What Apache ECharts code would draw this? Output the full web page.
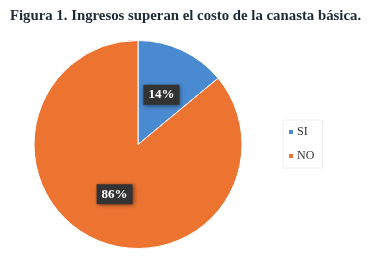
<!DOCTYPE html>
<html><head><meta charset="utf-8">
<script src="https://cdn.jsdelivr.net/npm/echarts@6/dist/echarts.min.js"></script>
<style>html,body{margin:0;padding:0;background:#fff}#c{width:371px;height:259px}</style>
</head><body><div id="c"></div>
<script>
const categories = ['SI', 'NO'];
const values = [14, 86];
const colors = ['#4a8ad0', '#ed7331'];
const chart = echarts.init(document.getElementById('c'), null, {renderer:'canvas'});
chart.setOption({
  animation:false,
  title:{text:'Figura 1. Ingresos superan el costo de la canasta básica.', left:'center', top:4,
    textStyle:{fontFamily:'Liberation Serif', fontWeight:'bold', fontSize:14.8, color:'#1e2a3a'}},
  legend:{orient:'vertical', left:283, top:120, itemWidth:6, itemHeight:6, itemGap:12, icon:'rect',
    borderColor:'#f0f0f0', borderWidth:1, padding:[6,8,6,4],
    textStyle:{fontFamily:'Liberation Serif', fontSize:12, color:'#333', padding:[0,0,0,-2]},
    data:categories},
  series:[{type:'pie', center:[138,144.5], radius:[0,104], startAngle:90, clockwise:true,
    data:categories.map((c,i)=>({name:c, value:values[i], itemStyle:{color:colors[i]}})),
    label:{position:'inside', formatter:'{c}%', fontFamily:'Liberation Serif', fontWeight:'bold', fontSize:13,
      color:'#fff', backgroundColor:'#333', padding:[4,5,3,5],
      shadowColor:'rgba(0,0,0,0.5)', shadowBlur:4, shadowOffsetX:1, shadowOffsetY:1},
    labelLine:{show:false}, itemStyle:{borderColor:'#fff', borderWidth:1}}]
});
</script></body></html>
